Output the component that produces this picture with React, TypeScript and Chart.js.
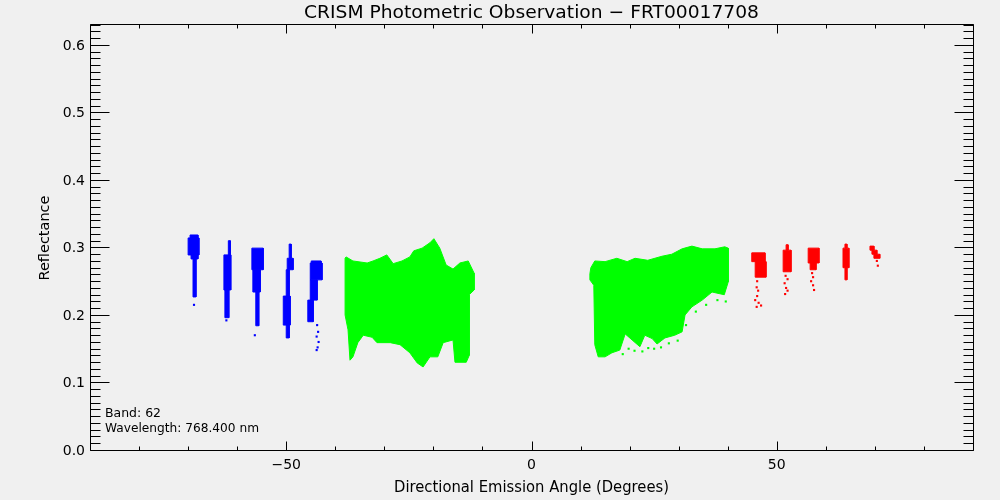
import { useEffect, useRef } from "react";
import { Chart, Plugin, registerables } from "chart.js";

Chart.register(...registerables);

// Axis ranges and tick labels
const xMin = -90;
const xMax = 90;
const yMin = 0;
const yMax = 0.631;
const xTickValues = [-50, 0, 50];
const xTickLabels = ["\u221250", "0", "50"];
const xMinorStep = 10;
const yTickValues = [0, 0.1, 0.2, 0.3, 0.4, 0.5, 0.6];
const yTickLabels = ["0.0", "0.1", "0.2", "0.3", "0.4", "0.5", "0.6"];
const yMinorCount = 63; // minor ticks every 0.01

const chartTitle = "CRISM Photometric Observation \u2212 FRT00017708";
const xTitle = "Directional Emission Angle (Degrees)";
const yTitle = "Reflectance";
const noteLines = ["Band: 62", "Wavelength: 768.400 nm"];

// Central scan (green): outline of the west swath
const westSwathAngle = [
  -38.0, -37.8, -36.4, -33.5, -32.3, -30.9, -29.5, -28.2, -26.4, -24.8, -24.0, -22.3, -20.7,
  -19.9, -18.7, -17.4, -16.0, -14.6, -12.9, -11.7, -11.7, -12.7, -12.7, -13.3, -15.6, -16.0,
  -18.0, -19.1, -20.7, -22.1, -23.3, -24.8, -26.8, -28.8, -31.5, -32.5, -34.3, -35.4, -36.4,
  -37.0, -37.4, -38.0,
];
const westSwathRefl = [
  0.284, 0.286, 0.280, 0.277, 0.280, 0.284, 0.289, 0.276, 0.280, 0.286, 0.295, 0.299, 0.307,
  0.313, 0.299, 0.274, 0.268, 0.277, 0.280, 0.262, 0.237, 0.230, 0.140, 0.130, 0.130, 0.163,
  0.159, 0.138, 0.138, 0.123, 0.129, 0.144, 0.156, 0.159, 0.159, 0.167, 0.170, 0.159, 0.138,
  0.133, 0.178, 0.200,
];

// Central scan (green): outline of the east swath
const eastSwathAngle = [
  11.9, 11.9, 12.1, 12.9, 15.0, 17.4, 19.5, 21.1, 23.7, 26.6, 28.6, 30.7, 32.7, 34.8, 37.4,
  39.4, 40.1, 40.1, 39.3, 36.8, 34.8, 32.7, 31.3, 30.7, 29.2, 27.2, 25.6, 24.6, 23.1, 22.1,
  20.5, 19.1, 18.0, 16.4, 15.0, 13.6, 12.9, 12.7,
];
const eastSwathRefl = [
  0.252, 0.261, 0.270, 0.280, 0.279, 0.284, 0.279, 0.284, 0.281, 0.287, 0.290, 0.298, 0.302,
  0.298, 0.298, 0.301, 0.299, 0.249, 0.230, 0.234, 0.222, 0.212, 0.200, 0.175, 0.170, 0.166,
  0.157, 0.165, 0.170, 0.153, 0.163, 0.172, 0.148, 0.144, 0.138, 0.138, 0.156, 0.244,
];

// Sparse green pixels along the lower edge of the east swath
const greenDotAngle = [
  18.6, 19.8, 21.0, 22.6, 23.8, 25.0, 26.4, 28.0, 29.8, 31.5, 33.5, 35.6, 37.9, 39.6,
];
const greenDotRefl = [
  0.142, 0.150, 0.147, 0.146, 0.151, 0.150, 0.152, 0.158, 0.162, 0.185, 0.205, 0.215, 0.222,
  0.220,
];

// Off-nadir frames before the scan (blue): pieces of each streak
const blueLeft = [
  -69.6, -70.0, -69.4, -69.0, -61.8, -62.7, -62.5, -57.0, -56.8, -56.2, -49.4, -49.8, -50.0,
  -50.6, -50.0, -44.9, -45.1, -45.1, -45.6,
];
const blueRight = [
  -68.0, -67.8, -68.0, -68.4, -61.4, -61.3, -61.7, -54.7, -55.3, -55.6, -49.0, -48.6, -49.4,
  -49.2, -49.4, -42.9, -42.7, -43.7, -44.5,
];
const blueTop = [
  0.3185, 0.3141, 0.2889, 0.283, 0.310, 0.289, 0.237, 0.299, 0.267, 0.234, 0.305, 0.284,
  0.267, 0.228, 0.185, 0.280, 0.277, 0.252, 0.222,
];
const blueBottom = [
  0.3141, 0.2889, 0.283, 0.2267, 0.289, 0.237, 0.196, 0.267, 0.234, 0.184, 0.284, 0.267,
  0.228, 0.185, 0.166, 0.277, 0.252, 0.222, 0.190,
];
const blueDotAngle = [-68.8, -62.2, -56.4, -43.7, -43.5, -43.8, -43.4, -43.6, -43.8];
const blueDotRefl = [0.215, 0.192, 0.170, 0.185, 0.175, 0.168, 0.160, 0.152, 0.148];

// Off-nadir frames after the scan (red)
const redLeft = [44.9, 45.6, 51.9, 51.3, 56.4, 56.8, 63.9, 63.5, 63.9, 69.0, 69.4, 69.8];
const redRight = [47.6, 47.8, 52.3, 52.9, 58.6, 58.0, 64.3, 64.7, 64.3, 69.8, 70.4, 71.0];
const redTop = [0.292, 0.279, 0.304, 0.296, 0.299, 0.277, 0.305, 0.299, 0.270, 0.302, 0.296, 0.290];
const redBottom = [0.279, 0.256, 0.296, 0.264, 0.277, 0.267, 0.299, 0.270, 0.252, 0.296, 0.290, 0.284];
const redDotAngle = [
  46.0, 45.9, 46.2, 46.0, 45.6, 46.3, 46.8, 45.9, 51.8, 52.2, 51.6, 51.9, 52.2, 51.7, 57.2,
  57.4, 57.0, 57.4, 57.6, 70.4, 70.6,
];
const redDotRefl = [
  0.250, 0.241, 0.236, 0.228, 0.222, 0.218, 0.214, 0.212, 0.258, 0.253, 0.247, 0.240, 0.236,
  0.231, 0.262, 0.256, 0.250, 0.244, 0.237, 0.280, 0.273,
];

const GREEN = "#00ff00";
const BLUE = "#0000ff";
const RED = "#ff0000";
const FONT = '"DejaVu Sans", sans-serif';

const polygon = (xs: number[], ys: number[], color: string) => ({
  data: [...xs.map((x, i) => ({ x, y: ys[i] })), { x: xs[0], y: ys[0] }],
  borderColor: color,
  backgroundColor: color,
  borderWidth: 1,
  pointRadius: 0,
  showLine: true,
  tension: 0,
  fill: "shape",
});

const boxes = (l: number[], r: number[], t: number[], b: number[], color: string) =>
  l.map((_, i) => polygon([l[i], r[i], r[i], l[i]], [t[i], t[i], b[i], b[i]], color));

const dots = (xs: number[], ys: number[], color: string) => ({
  data: xs.map((x, i) => ({ x, y: ys[i] })),
  showLine: false,
  pointStyle: "rect",
  pointRadius: 1.5,
  pointBorderWidth: 0,
  pointBackgroundColor: color,
  borderColor: color,
  backgroundColor: color,
});

function fitText(
  ctx: CanvasRenderingContext2D,
  text: string,
  x: number,
  y: number,
  width: number,
  font: string,
  align: "left" | "center"
) {
  ctx.font = font;
  const w = ctx.measureText(text).width;
  const left = align === "center" ? x - width / 2 : x;
  ctx.save();
  ctx.translate(left, y);
  ctx.scale(width / w, 1);
  ctx.textAlign = "left";
  ctx.fillText(text, 0, 0);
  ctx.restore();
}

// IDL-style frame: ticks inside on all four sides
const idlFrame: Plugin<"line"> = {
  id: "idlFrame",
  afterDraw(chart) {
    const { ctx, chartArea: a } = chart;
    const xs = chart.scales.x;
    const ys = chart.scales.y;
    const L = Math.round(a.left) + 0.5;
    const R = Math.round(a.right) + 0.5;
    const T = Math.round(a.top) + 0.5;
    const B = Math.round(a.bottom) + 0.5;
    ctx.save();
    ctx.strokeStyle = "#000";
    ctx.fillStyle = "#000";
    ctx.lineWidth = 1;
    ctx.beginPath();
    ctx.rect(L, T, R - L, B - T);

    for (let v = Math.ceil(xMin / xMinorStep) * xMinorStep; v <= xMax; v += xMinorStep) {
      const px = Math.round(xs.getPixelForValue(v)) + 0.5;
      const len = xTickValues.includes(v) ? 9 : 4;
      ctx.moveTo(px, B);
      ctx.lineTo(px, B - len);
      ctx.moveTo(px, T);
      ctx.lineTo(px, T + len);
    }
    for (let i = 0; i <= yMinorCount; i++) {
      const py = Math.round(ys.getPixelForValue(i / 100)) + 0.5;
      const len = i % 10 === 0 ? 19 : 10;
      ctx.moveTo(L, py);
      ctx.lineTo(L + len, py);
      ctx.moveTo(R, py);
      ctx.lineTo(R - len, py);
    }
    ctx.stroke();

    ctx.font = `14px ${FONT}`;
    ctx.textBaseline = "alphabetic";
    ctx.textAlign = "center";
    xTickValues.forEach((v, i) => {
      ctx.fillText(xTickLabels[i], xs.getPixelForValue(v), 469);
    });
    ctx.textAlign = "right";
    yTickValues.forEach((v, i) => {
      ctx.fillText(yTickLabels[i], 85, ys.getPixelForValue(v) + 5);
    });

    fitText(ctx, chartTitle, (a.left + a.right) / 2, 18, 455, `18px ${FONT}`, "center");
    fitText(ctx, xTitle, (a.left + a.right) / 2, 492, 275, `15px ${FONT}`, "center");
    ctx.save();
    ctx.translate(49, 238);
    ctx.rotate(-Math.PI / 2);
    fitText(ctx, yTitle, 0, 0, 85, `14px ${FONT}`, "center");
    ctx.restore();
    fitText(ctx, noteLines[0], 105, 417, 56, `12px ${FONT}`, "left");
    fitText(ctx, noteLines[1], 105, 432, 154, `12px ${FONT}`, "left");
    ctx.restore();
  },
};

export default function App() {
  const chartRef = useRef<HTMLCanvasElement>(null);
  const chartInstance = useRef<Chart | null>(null);

  useEffect(() => {
    if (!chartRef.current) return;
    if (chartInstance.current) {
      chartInstance.current.destroy();
    }
    const ctx = chartRef.current.getContext("2d");
    if (!ctx) return;

    const datasets: any[] = [
      polygon(westSwathAngle, westSwathRefl, GREEN),
      polygon(eastSwathAngle, eastSwathRefl, GREEN),
      dots(greenDotAngle, greenDotRefl, GREEN),
      ...boxes(blueLeft, blueRight, blueTop, blueBottom, BLUE),
      dots(blueDotAngle, blueDotRefl, BLUE),
      ...boxes(redLeft, redRight, redTop, redBottom, RED),
      dots(redDotAngle, redDotRefl, RED),
    ];

    chartInstance.current = new Chart(ctx, {
      type: "line",
      data: { datasets },
      options: {
        responsive: true,
        maintainAspectRatio: false,
        animation: false,
        devicePixelRatio: 1,
        layout: { padding: { top: 24, right: 27, left: 0, bottom: 0 } },
        plugins: {
          legend: { display: false },
          title: { display: false },
          tooltip: { enabled: false },
        },
        scales: {
          x: {
            type: "linear",
            min: xMin,
            max: xMax,
            grid: { display: false },
            border: { display: false },
            ticks: { display: false },
            afterFit: (s) => {
              s.height = 50;
            },
          },
          y: {
            type: "linear",
            min: yMin,
            max: yMax,
            grid: { display: false },
            border: { display: false },
            ticks: { display: false },
            afterFit: (s) => {
              s.width = 90;
            },
          },
        },
      },
      plugins: [idlFrame],
    });

    return () => {
      if (chartInstance.current) {
        chartInstance.current.destroy();
        chartInstance.current = null;
      }
    };
  }, []);

  return (
    <div
      style={{
        position: "fixed",
        left: 0,
        top: 0,
        width: 1000,
        height: 500,
        background: "#f0f0f0",
      }}
    >
      <canvas ref={chartRef}></canvas>
    </div>
  );
}
